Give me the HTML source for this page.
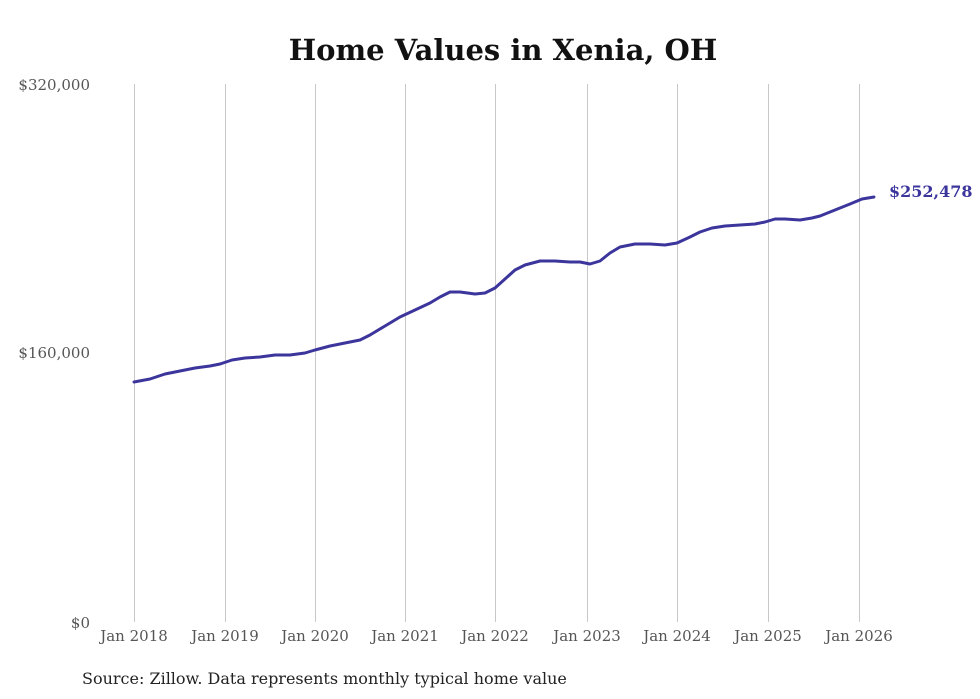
<!DOCTYPE html>
<html><head><meta charset="utf-8"><style>
html,body{margin:0;padding:0;background:#fff;}
svg{display:block;}
</style></head><body>
<svg width="980" height="699" viewBox="0 0 980 699" xmlns="http://www.w3.org/2000/svg" font-family="'DejaVu Serif', 'Liberation Serif', serif">
<text x="503" y="60" text-anchor="middle" font-size="29" font-weight="bold" fill="#111">Home Values in Xenia, OH</text>
<g stroke="#c8c8c8" stroke-width="1">
<line x1="134.5" y1="84" x2="134.5" y2="622"/>
<line x1="225.5" y1="84" x2="225.5" y2="622"/>
<line x1="315.5" y1="84" x2="315.5" y2="622"/>
<line x1="405.5" y1="84" x2="405.5" y2="622"/>
<line x1="495.5" y1="84" x2="495.5" y2="622"/>
<line x1="587.5" y1="84" x2="587.5" y2="622"/>
<line x1="677.5" y1="84" x2="677.5" y2="622"/>
<line x1="768.5" y1="84" x2="768.5" y2="622"/>
<line x1="859.5" y1="84" x2="859.5" y2="622"/>
</g>
<g font-size="15" fill="#555">
<text x="90" y="90" text-anchor="end">$320,000</text>
<text x="90" y="358" text-anchor="end">$160,000</text>
<text x="90" y="628" text-anchor="end">$0</text>
<g text-anchor="middle">
<text x="134" y="641">Jan 2018</text>
<text x="225" y="641">Jan 2019</text>
<text x="315" y="641">Jan 2020</text>
<text x="405" y="641">Jan 2021</text>
<text x="495" y="641">Jan 2022</text>
<text x="587" y="641">Jan 2023</text>
<text x="677" y="641">Jan 2024</text>
<text x="768" y="641">Jan 2025</text>
<text x="859" y="641">Jan 2026</text>
</g>
</g>
<polyline fill="none" stroke="#3b359c" stroke-width="3" stroke-linejoin="round" stroke-linecap="round" points="134,382 150,379 165,374 180,371 195,368 210,366 220,364 232,360 245,358 260,357 275,355 290,355 305,353 315,350 330,346 345,343 360,340 370,335 385,326 400,317 415,310 430,303 440,297 450,292 460,292 475,294 485,293 495,288 505,279 515,270 525,265 540,261 555,261 570,262 580,262 590,264 600,261 610,253 620,247 635,244 650,244 665,245 677,243 690,237 700,232 712,228 725,226 740,225 755,224 765,222 775,219 785,219 800,220 812,218 820,216 835,210 850,204 862,199 874,197"/>
<text x="889" y="197" font-size="16" font-weight="bold" fill="#3b359c">$252,478</text>
<text x="82" y="684" font-size="16" fill="#222">Source: Zillow. Data represents monthly typical home value</text>
</svg>
</body></html>
